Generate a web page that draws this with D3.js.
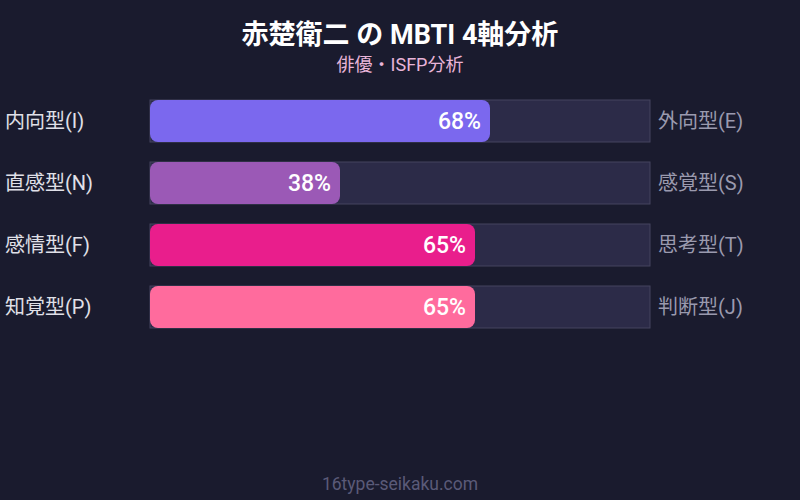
<!DOCTYPE html>
<html>
<head>
<meta charset="utf-8">
<script src="https://cdn.jsdelivr.net/npm/d3@7"></script>
<style>
  body { margin: 0; background: #1a1b2e; }
  text { font-family: Roboto, "Noto Sans CJK JP", sans-serif; }
</style>
</head>
<body>
<svg id="chart" width="800" height="500"></svg>
<script>
var leftLabels = ["内向型(I)", "直感型(N)", "感情型(F)", "知覚型(P)"];
var rightLabels = ["外向型(E)", "感覚型(S)", "思考型(T)", "判断型(J)"];
var values = [68, 38, 65, 65];
var colors = ["#7b68ee", "#9b59b6", "#e91e8c", "#ff6b9d"];

var svg = d3.select("#chart");

svg.append("rect")
    .attr("width", 800)
    .attr("height", 500)
    .attr("fill", "#1a1b2e");

svg.append("text")
    .attr("x", 400).attr("y", 44)
    .attr("text-anchor", "middle")
    .attr("fill", "#ffffff")
    .attr("font-size", 27)
    .attr("font-weight", "bold")
    .text("赤楚衛二 の MBTI 4軸分析");

svg.append("text")
    .attr("x", 400).attr("y", 71)
    .attr("text-anchor", "middle")
    .attr("fill", "#e8b4d8")
    .attr("font-size", 18)
    .text("俳優・ISFP分析");

var x = d3.scaleLinear().domain([0, 100]).range([150, 650]);
var y = d3.scaleBand().domain(d3.range(values.length)).range([100, 328]).paddingInner(20 / 62);

var row = svg.selectAll(".row")
    .data(values)
  .enter().append("g")
    .classed("row", true)
    .attr("transform", function(d, i) { return "translate(0," + y(i) + ")"; });

row.append("rect")
    .attr("x", x(0))
    .attr("width", x(100) - x(0))
    .attr("height", y.bandwidth())
    .attr("fill", "#2c2b48")
    .attr("stroke", "#44445e")
    .attr("stroke-width", 1);

row.append("rect")
    .attr("x", x(0))
    .attr("width", function(d) { return x(d) - x(0); })
    .attr("height", y.bandwidth())
    .attr("rx", 8)
    .attr("fill", function(d, i) { return colors[i]; });

row.append("text")
    .attr("x", function(d) { return x(d) - 9; })
    .attr("y", y.bandwidth() / 2)
    .attr("dy", "0.35em")
    .attr("text-anchor", "end")
    .attr("fill", "#ffffff")
    .attr("font-size", 23)
    .attr("font-weight", 500)
    .text(function(d) { return d + "%"; });

row.append("text")
    .attr("x", 5)
    .attr("y", y.bandwidth() / 2)
    .attr("dy", "0.35em")
    .attr("fill", "#e0e0e8")
    .attr("font-size", 20)
    .text(function(d, i) { return leftLabels[i]; });

row.append("text")
    .attr("x", 658)
    .attr("y", y.bandwidth() / 2)
    .attr("dy", "0.35em")
    .attr("fill", "#9a9aae")
    .attr("font-size", 20)
    .text(function(d, i) { return rightLabels[i]; });

svg.append("text")
    .attr("x", 400).attr("y", 490)
    .attr("text-anchor", "middle")
    .attr("fill", "#5a5a78")
    .attr("font-size", 17.5)
    .text("16type-seikaku.com");
</script>
</body>
</html>
